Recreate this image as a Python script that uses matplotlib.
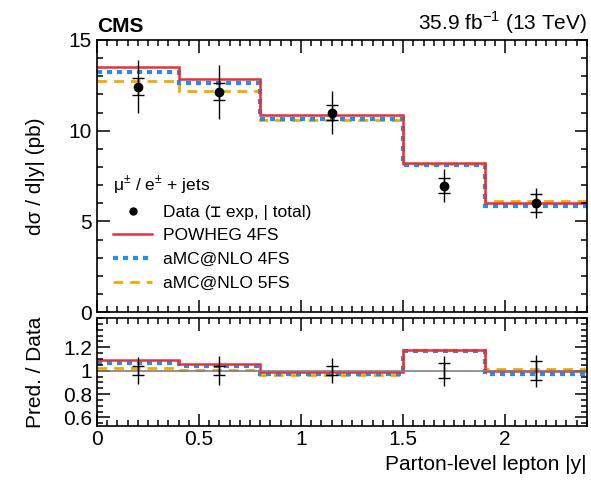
import matplotlib.pyplot as plt
import numpy as np
from matplotlib.ticker import MultipleLocator, FormatStrFormatter

plt.rcParams['font.family'] = ['Liberation Sans', 'DejaVu Sans Mono', 'DejaVu Sans']
plt.rcParams['mathtext.fontset'] = 'custom'
plt.rcParams['mathtext.rm'] = 'Liberation Sans'
plt.rcParams['axes.linewidth'] = 1.2

# bins in parton-level lepton |y|
edges = [0.0, 0.4, 0.8, 1.5, 1.9, 2.4]
data_x = [0.2, 0.6, 1.15, 1.7, 2.15]
data_y = [12.43, 12.14, 11.0, 6.97, 6.02]
err_exp = [0.45, 0.47, 0.40, 0.43, 0.50]
err_tot = [1.45, 1.47, 1.20, 0.90, 0.83]

powheg_4fs = [13.52, 12.84, 10.85, 8.23, 6.02]
amc_4fs = [13.26, 12.62, 10.66, 8.13, 5.87]
amc_5fs = [12.75, 12.16, 10.59, 8.18, 6.12]

red = '#e8303a'
blue = '#1e90f0'
orange = '#f5a800'

fig = plt.figure(figsize=(5.91, 4.87), dpi=100)
ax = fig.add_axes([0.164, 0.359, 0.829, 0.559])
rax = fig.add_axes([0.164, 0.126, 0.829, 0.221], sharex=ax)

d = np.array(data_y)
preds = [(powheg_4fs, red, '-', 1.8, 'POWHEG 4FS'),
         (amc_4fs, blue, (0, (1.2, 1.2)), 3.0, 'aMC@NLO 4FS'),
         (amc_5fs, orange, (0, (3.5, 2.5)), 2.0, 'aMC@NLO 5FS')]

handles = []
for vals, c, ls, lw, lab in preds[::-1]:
    ax.stairs(vals, edges, color=c, ls=ls, lw=lw, baseline=None)
    rax.stairs(np.array(vals) / d, edges, color=c, ls=ls, lw=lw, baseline=None)
for vals, c, ls, lw, lab in preds:
    handles.append(plt.Line2D([], [], color=c, ls=ls, lw=lw, label=lab))

# data with exp (capped) and total (plain) errors
ax.errorbar(data_x, data_y, yerr=err_tot, fmt='none', ecolor='black', elinewidth=1.0)
ax.errorbar(data_x, data_y, yerr=err_exp, fmt='none', ecolor='black', elinewidth=1.0,
            capsize=4, capthick=1.0)
ax.plot(data_x, data_y, 'o', color='black', ms=6)

ones = np.ones(len(data_x))
rax.axhline(1.0, color='grey', lw=1.2)
rax.errorbar(data_x, ones, yerr=np.array(err_tot) / d, fmt='none', ecolor='black', elinewidth=1.0)
rax.errorbar(data_x, ones, yerr=np.array(err_exp) / d, fmt='none', ecolor='black', elinewidth=1.0,
             capsize=4, capthick=1.0)

data_handle = plt.Line2D([], [], marker='o', color='black', ls='none', ms=5,
                         label='Data (\u2336 exp, | total)')
leg = ax.legend(handles=[data_handle] + handles, loc='lower left',
                bbox_to_anchor=(0.0, 0.02), frameon=False, fontsize=12.5,
                handlelength=2.3, handletextpad=0.6, labelspacing=0.5,
                title='μ$^{\\pm}$ / e$^{\\pm}$ + jets', title_fontsize=12.5)
leg._legend_box.align = 'left'

ax.set_xlim(0, 2.4)
ax.set_ylim(0, 15)
rax.set_ylim(0.53, 1.45)

ax.set_ylabel('dσ / d|y| (pb)', fontsize=15)
rax.set_ylabel('Pred. / Data', fontsize=15)
rax.set_xlabel('Parton-level lepton |y|', fontsize=15, loc='right')

for a in (ax, rax):
    a.tick_params(which='both', direction='in', top=True, right=True, labelsize=15, width=1.1)
    a.tick_params(which='major', length=9)
    a.tick_params(which='minor', length=4)
    a.xaxis.set_major_locator(MultipleLocator(0.5))
    a.xaxis.set_minor_locator(MultipleLocator(0.05))
ax.yaxis.set_major_locator(MultipleLocator(5))
ax.yaxis.set_minor_locator(MultipleLocator(1))
rax.set_yticks([0.6, 0.8, 1.0, 1.2])
rax.yaxis.set_minor_locator(MultipleLocator(0.05))
rax.yaxis.set_major_formatter(FormatStrFormatter('%g'))
rax.xaxis.set_major_formatter(FormatStrFormatter('%g'))
plt.setp(ax.get_xticklabels(), visible=False)

ax.text(0.0, 1.015, 'CMS', transform=ax.transAxes, fontsize=15, fontweight='bold',
        ha='left', va='bottom')
ax.text(1.0, 1.015, '35.9 fb$^{-1}$ (13 TeV)', transform=ax.transAxes, fontsize=15,
        ha='right', va='bottom')

ax.yaxis.set_label_coords(-0.105, 0.5)
rax.yaxis.set_label_coords(-0.105, 0.5)

fig.savefig('out.png', dpi=100)
